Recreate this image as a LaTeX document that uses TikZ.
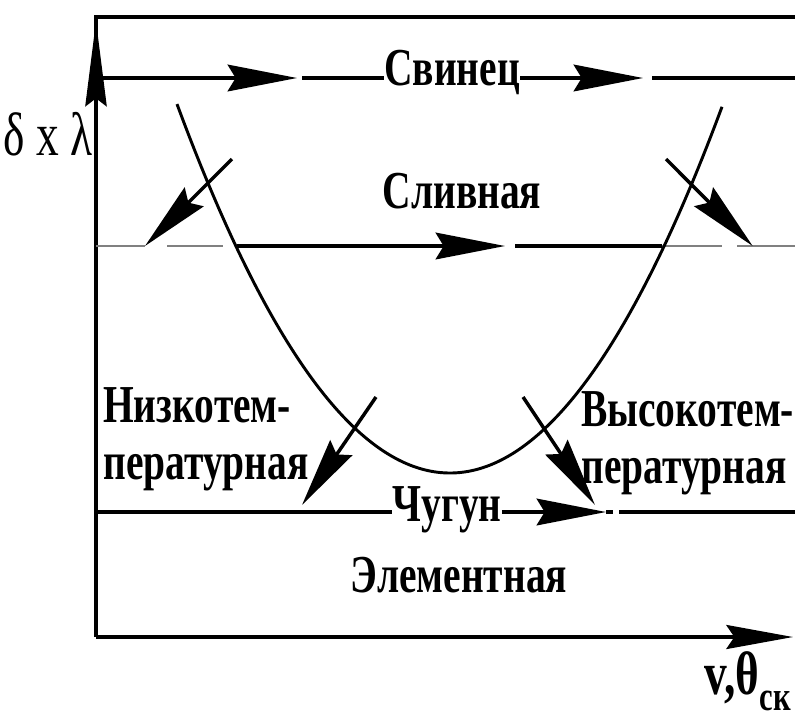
\documentclass[tikz,border=0pt]{standalone}
\usepackage{fontspec}
\usepackage{tikz}
\usetikzlibrary{arrows.meta,positioning,calc}
\newfontfamily\labelfont{Liberation Serif}[FakeStretch=0.74]

\begin{document}
\begin{tikzpicture}[
    x=0.75pt, y=-0.75pt,
    every node/.style={font=\labelfont\bfseries\fontsize{40}{42.75}\selectfont, inner sep=0pt, align=left},
    axisline/.style={line width=2.6pt},
    flowline/.style={line width=2.6pt},
    paleline/.style={line width=1.3pt, draw=black!50},
    curveline/.style={line width=2.2pt},
    midtip/.style={-{Stealth[length=52pt,width=20pt,inset=6pt]}}
]
\useasboundingbox (0,0) rectangle (795,726);

% frame and axes
\coordinate (O) at (96,637);
\coordinate (ytop) at (96,17);
\coordinate (frameend) at (795,17);
\coordinate (ytip) at (96,21);
\coordinate (ymid) at (96,300);
\coordinate (xtip) at (793,637);
\draw[axisline] (O) -- (ytop) -- (frameend);
\draw[axisline, -{Stealth[length=64pt,width=16pt,inset=6pt]}] (ymid) -- (ytip);
\draw[axisline, -{Stealth[length=50pt,width=18pt,inset=6pt]}] (O) -- (xtip);
\node[font=\labelfont\fontsize{46}{46}\selectfont, anchor=east] (ylabel) at (93,134) {δ x λ};
\node[anchor=base east] (xlabel) at (791,694) {{\fontsize{46}{46}\selectfont v,θ}\raisebox{-12pt}{\fontsize{31}{31}\selectfont ск}};

% Svinets
\node[anchor=base] (svinec) at (452,85) {Свинец};
\coordinate (s0) at (96,78);
\coordinate (s1) at (297,78);
\coordinate (s2) at (302,78);
\coordinate (s3) at (643,78);
\coordinate (s4) at (652,78);
\coordinate (s5) at (795,78);
\draw[flowline, midtip] (s0) -- (s1);
\draw[flowline] (s2) -- (s2 -| svinec.west);
\draw[flowline, midtip] (s3 -| svinec.east) -- (s3);
\draw[flowline] (s4) -- (s5);

% Slivnaya
\node[anchor=base] (slivnaya) at (462,208) {Сливная};
\coordinate (l0) at (96,246);
\coordinate (l1) at (145,246);
\coordinate (l2) at (167,246);
\coordinate (l3) at (223,246);
\coordinate (l4) at (237,246);
\coordinate (l5) at (505,246);
\coordinate (l6) at (515,246);
\coordinate (l7) at (662,246);
\coordinate (l8) at (722,246);
\coordinate (l9) at (737,246);
\coordinate (l10) at (795,246);
\draw[paleline] (l0) -- (l1);
\draw[paleline] (l2) -- (l3);
\draw[flowline, midtip] (l4) -- (l5);
\draw[flowline] (l6) -- (l7);
\draw[paleline] (l7) -- (l8);
\draw[paleline] (l9) -- (l10);

% parabola
\draw[curveline] plot[domain=177:722, samples=90, smooth] (\x, {473-49.5*((\x-450)/100)*((\x-450)/100)});

% arrows onto Slivnaya
\coordinate (ua) at (232,159);
\coordinate (ub) at (666,159);
\draw[flowline, midtip] (ua) -- (l1);
\draw[flowline, midtip] (ub) -- ($(l9)!0.27!(l10)$);

% Chugun
\node[anchor=base] (chugun) at (447,521) {Чугун};
\coordinate (c0) at (96,512);
\coordinate (c1) at (606,512);
\coordinate (c2) at (613,512);
\coordinate (c3) at (619,512);
\coordinate (c4) at (795,512);
\draw[flowline] (c0) -- (c0 -| chugun.west);
\draw[flowline, midtip] (c1 -| chugun.east) -- (c1);
\draw[flowline] (c1) -- (c2);
\draw[flowline] (c3) -- (c4);

% low and high temperature
\node[anchor=north west] (lowtemp) at (103,387) {Низкотем-\\пературная};
\node[anchor=north west] (hightemp) at (581,391) {Высокотем-\\пературная};
\coordinate (da) at (376,397);
\coordinate (dat) at (302,505);
\coordinate (db) at (523,397);
\coordinate (dbt) at (595,505);
\draw[flowline, midtip] (da) -- (dat);
\draw[flowline, midtip] (db) -- (dbt);

% Elementnaya
\node[anchor=base] (element) at (459,592) {Элементная};
\end{tikzpicture}
\end{document}
